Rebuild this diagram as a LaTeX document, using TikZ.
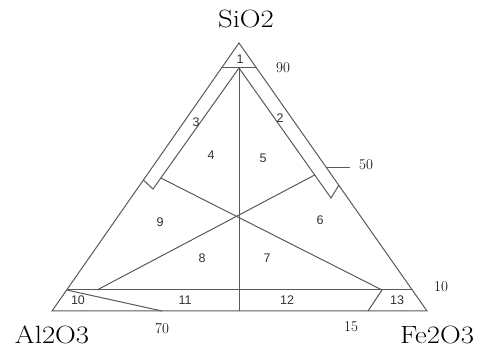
\documentclass[tikz,border=0pt]{standalone}
\usepackage{fontspec}
\newfontfamily\regionfont{Liberation Sans}
\usepackage{tikz}
\tikzset{
    edge/.style={draw=black!65, line width=1pt},
    corner/.style={font=\fontsize{25}{28}\selectfont, inner sep=0pt, xscale=1.15},
    tickmark/.style={font=\fontsize{15}{17}\selectfont, inner sep=0pt},
    region/.style={font=\regionfont\fontsize{12.5}{14}\selectfont, text=black!80, inner sep=0pt}
}

\begin{document}
\begin{tikzpicture}[x=1pt, y=-1pt]
\useasboundingbox (0,0) rectangle (479,352);
% main triangle
\coordinate (si) at (239,43);
\coordinate (al) at (52,311);
\coordinate (fe) at (427,311);
\draw[edge] (si) -- (al) -- (fe) -- cycle;

% 90 line and vertical
\coordinate (top l) at (221.6,68);
\coordinate (top r) at (256.5,68);
\coordinate (mid top) at (239,68);
\coordinate (mid bot) at (239,311);
\draw[edge] (top l) -- (top r);
\draw[edge] (mid top) -- (mid bot);

% bands along the two upper sides
\coordinate (lband in) at (153,189);
\coordinate (lband out) at (143.4,180);
\coordinate (rband in) at (331,198);
\coordinate (rband out) at (339,185);
\draw[edge] (mid top) -- (lband in) -- (lband out);
\draw[edge] (mid top) -- (rband in) -- (rband out);

% 50 tick
\coordinate (tick a) at (326.7,168);
\coordinate (tick b) at (350,168);
\draw[edge] (tick a) -- (tick b);

% the two diagonals
\coordinate (ldiag) at (160.8,178);
\coordinate (rdiag) at (314.7,175);
\coordinate (low r) at (382,290);
\coordinate (low l) at (97,290);
\draw[edge] (ldiag) -- (low r);
\draw[edge] (rdiag) -- (low l);

% 10 line and the two small cuts
\coordinate (ten l) at (66.7,290);
\coordinate (ten r) at (412.3,290);
\coordinate (cut l) at (162,311);
\coordinate (cut r) at (368,311);
\draw[edge] (ten l) -- (ten r);
\draw[edge] (ten l) -- (cut l);
\draw[edge] (low r) -- (cut r);

% corner labels
\node[corner] (lsi) at (246,19) {SiO2};
\node[corner] (lal) at (52,335) {Al2O3};
\node[corner] (lfe) at (437,335) {Fe2O3};

% scale labels
\node[tickmark] (s90) at (283,68) {90};
\node[tickmark] (s50) at (366,165) {50};
\node[tickmark] (s10) at (441,287) {10};
\node[tickmark] (s70) at (162,329) {70};
\node[tickmark] (s15) at (351,327) {15};

% region numbers
\node[region] (r1) at (240,59) {1};
\node[region] (r2) at (280,118) {2};
\node[region] (r3) at (196,122) {3};
\node[region] (r4) at (211,155) {4};
\node[region] (r5) at (263,158) {5};
\node[region] (r6) at (320,220) {6};
\node[region] (r7) at (267,258) {7};
\node[region] (r8) at (202,258) {8};
\node[region] (r9) at (160,222) {9};
\node[region] (r10) at (78,300) {10};
\node[region] (r11) at (185,300) {11};
\node[region] (r12) at (287,300) {12};
\node[region] (r13) at (397,300) {13};
\end{tikzpicture}
\end{document}
